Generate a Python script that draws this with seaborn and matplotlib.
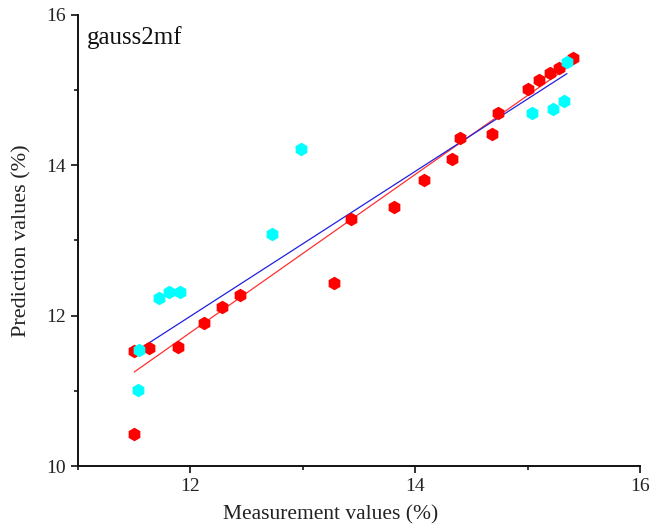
import matplotlib
matplotlib.use('Agg')
import matplotlib.pyplot as plt
import seaborn as sns
import pandas as pd
from matplotlib.ticker import MultipleLocator

red_meas = [11.50, 11.50, 11.63, 11.89, 12.12, 12.28, 12.44, 13.28, 13.43, 13.81,
            14.08, 14.33, 14.40, 14.68, 14.74, 15.00, 15.10, 15.20, 15.28, 15.40]
red_pred = [10.42, 11.53, 11.57, 11.58, 11.90, 12.12, 12.28, 12.44, 13.29, 13.45,
            13.81, 14.09, 14.36, 14.41, 14.70, 15.02, 15.13, 15.23, 15.30, 15.43]

cyan_meas = [11.53, 11.54, 11.72, 11.81, 11.91, 12.73, 12.98, 15.04, 15.23, 15.32, 15.35]
cyan_pred = [11.01, 11.54, 12.23, 12.31, 12.32, 13.09, 14.22, 14.70, 14.75, 14.85, 15.37]

# fitted lines (end points)
red_fit_x = [11.50, 15.40]
red_fit_y = [11.25, 15.35]
cyan_fit_x = [11.52, 15.35]
cyan_fit_y = [11.53, 15.22]

red = pd.DataFrame({'meas': red_meas, 'pred': red_pred})
cyan = pd.DataFrame({'meas': cyan_meas, 'pred': cyan_pred})

sns.set_style('ticks')
plt.rcParams['font.family'] = ['Liberation Serif', 'DejaVu Serif']

fig = plt.figure(figsize=(6.52, 5.31), dpi=100)
ax = fig.add_axes([0.1196, 0.1224, 0.862, 0.8494])

sns.lineplot(x=red_fit_x, y=red_fit_y, ax=ax, color='#ff3030', lw=0.9, zorder=2)
sns.lineplot(x=cyan_fit_x, y=cyan_fit_y, ax=ax, color='#2020e0', lw=0.9, zorder=2)
sns.scatterplot(data=red, x='meas', y='pred', ax=ax, marker='h', s=95,
                color='#ff0000', linewidth=0, zorder=3)
sns.scatterplot(data=cyan, x='meas', y='pred', ax=ax, marker='h', s=95,
                color='#00ffff', linewidth=0, zorder=4)

ax.set_xlim(11, 16)
ax.set_ylim(10, 16)
ax.xaxis.set_major_locator(MultipleLocator(2))
ax.xaxis.set_minor_locator(MultipleLocator(1))
ax.yaxis.set_major_locator(MultipleLocator(2))
ax.yaxis.set_minor_locator(MultipleLocator(1))
ax.tick_params(which='major', length=5, width=1.3, labelsize=14, colors='#222222')
ax.tick_params(which='minor', length=3, width=1.3)
for s in ['left', 'bottom']:
    ax.spines[s].set_linewidth(1.4)
    ax.spines[s].set_color('#111111')
sns.despine(ax=ax)

ax.set_xlabel('Measurement values (%)', fontsize=15.5, color='#222222')
ax.set_ylabel('Prediction values (%)', fontsize=16, color='#222222')
ax.xaxis.set_label_coords(0.45, -0.088)
ax.yaxis.set_label_coords(-0.082, 0.5)
ax.text(0.015, 0.975, 'gauss2mf', transform=ax.transAxes, fontsize=18,
        va='top', ha='left', color='#111111')

fig.savefig('out.png', dpi=100)
